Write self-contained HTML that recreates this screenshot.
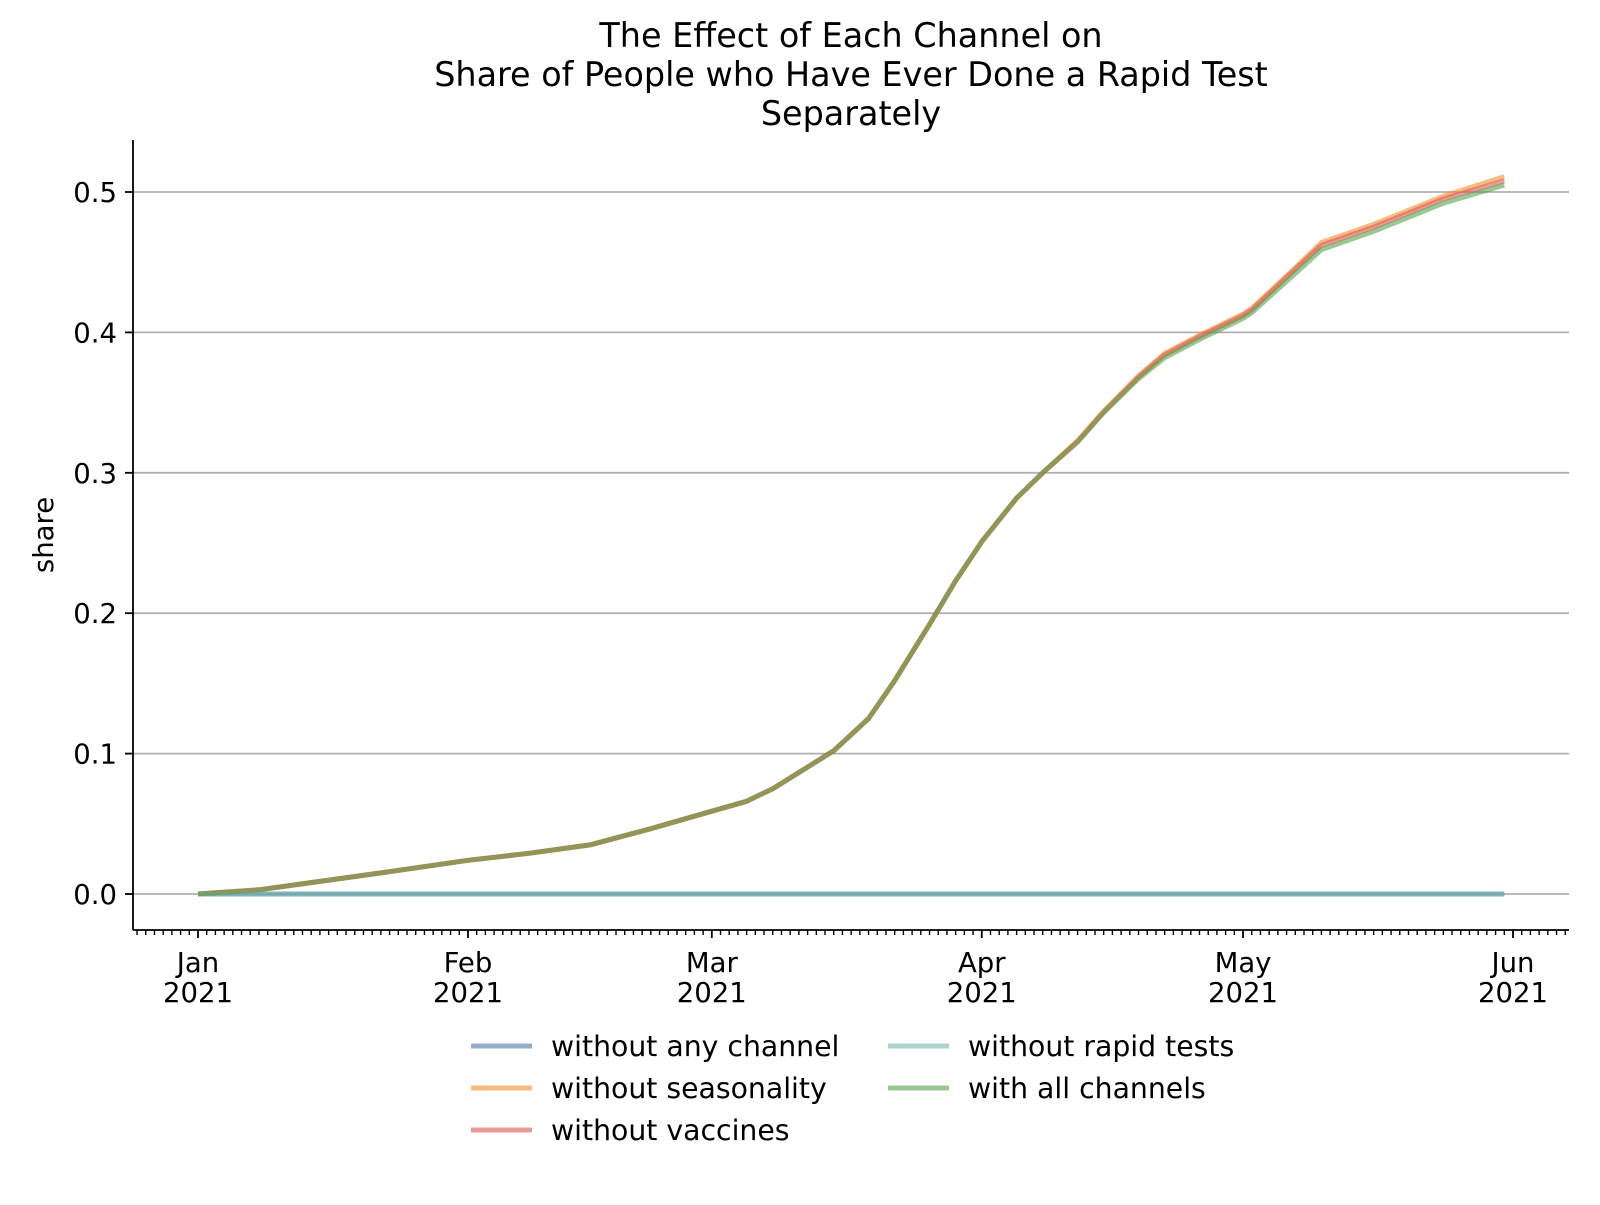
<!DOCTYPE html>
<html><head><meta charset="utf-8">
<style>
body{margin:0;background:#fff;}
svg text{font-family:"DejaVu Sans","Liberation Sans",sans-serif;fill:#000;}
</style></head>
<body>
<svg id="chart" width="1600" height="1200" viewBox="0 0 1600 1200" xmlns="http://www.w3.org/2000/svg">
<g>
<text x="851" y="47" font-size="33.4" text-anchor="middle">The Effect of Each Channel on</text>
<text x="851" y="86" font-size="33.4" text-anchor="middle">Share of People who Have Ever Done a Rapid Test</text>
<text x="851" y="125" font-size="33.4" text-anchor="middle">Separately</text>
</g>
<text transform="translate(53,535) rotate(-90)" font-size="27.5" text-anchor="middle">share</text>
<g id="grid"></g><g id="series"></g><g id="axes"></g>
<g id="legend"></g>
</svg>
<script>
const dayOffsets=[0,7,14,21,31,38,45,52,59,63,66,73,77,80,84,87,90,94,97,101,104,108,111,115,120,121,126,129,135,143,150];
const withAll=[0,0.003,0.009,0.015,0.024,0.029,0.035,0.0465,0.059,0.066,0.075,0.102,0.125,0.152,0.192,0.223,0.251,0.282,0.300,0.322,0.343,0.367,0.382,0.395,0.410,0.414,0.442,0.459,0.472,0.492,0.505];
const withoutSeasonality=[0,0.003,0.009,0.015,0.024,0.029,0.035,0.0465,0.059,0.066,0.075,0.102,0.125,0.152,0.192,0.223,0.251,0.282,0.300,0.323,0.344,0.369,0.385,0.398,0.413,0.417,0.446,0.464,0.477,0.497,0.511];
const withoutVaccines=[0,0.003,0.009,0.015,0.024,0.029,0.035,0.0465,0.059,0.066,0.075,0.102,0.125,0.152,0.192,0.223,0.251,0.282,0.300,0.322,0.343,0.368,0.384,0.397,0.412,0.416,0.445,0.462,0.475,0.495,0.508];
const withoutAny=[0,0];
const withoutRapid=[0,0];
const flatDays=[0,150];
const yTicks=[0,0.1,0.2,0.3,0.4,0.5];
const yTickLabels=["0.0","0.1","0.2","0.3","0.4","0.5"];
const monthDays=[0,31,59,90,120,151];
const monthLabels=["Jan","Feb","Mar","Apr","May","Jun"];
const seriesNames=["without any channel","without seasonality","without vaccines","without rapid tests","with all channels"];
const seriesColors=["#4e79a7","#f28e2b","#e15759","#76b7b2","#59a14f"];

const NS="http://www.w3.org/2000/svg";
const X0=198, PXD=(1513-198)/151, Y0=894, PXU=(894-192)/0.5;
const L=133,R=1569,T=140,B=930;
const xs=d=>X0+d*PXD, ys=v=>Y0-v*PXU;
function mk(tag,attrs,parent){const e=document.createElementNS(NS,tag);for(const k in attrs)e.setAttribute(k,attrs[k]);parent.appendChild(e);return e;}
const grid=document.getElementById('grid'),axes=document.getElementById('axes'),ser=document.getElementById('series'),leg=document.getElementById('legend');
yTicks.forEach((v,i)=>{
  const g=mk('line',{x1:L,x2:R,y1:ys(v),y2:ys(v),stroke:'#b0b0b0','stroke-width':1.8},grid);
  
  
  mk('line',{x1:L-8,x2:L,y1:ys(v),y2:ys(v),stroke:'#000','stroke-width':1.8},axes);
  const t=mk('text',{x:L-16,y:ys(v)+10,'font-size':27.5,'text-anchor':'end'},axes);
  t.textContent=yTickLabels[i];
  
  
});
const a1=mk('line',{x1:L,x2:L,y1:T,y2:B,stroke:'#000','stroke-width':1.8},axes);


const a2=mk('line',{x1:L,x2:R,y1:B,y2:B,stroke:'#000','stroke-width':1.8},axes);


for(let d=-8;d<=160;d++){const x=xs(d);if(x<L+2||x>R)continue;
  const major=monthDays.includes(d);
  mk('line',{x1:x,x2:x,y1:B,y2:B+(major?8:5),stroke:'#000','stroke-width':major?1.8:1.4},axes);}
monthDays.forEach((d,i)=>{
  const t=mk('text',{x:xs(d),y:972,'font-size':27.5,'text-anchor':'middle'},axes);
  t.textContent=monthLabels[i];
  
  
  const t2=mk('text',{x:xs(d),y:1002,'font-size':27.5,'text-anchor':'middle'},axes);
  t2.textContent="2021";
  
  
});
const dataSets=[[flatDays,withoutAny],[dayOffsets,withoutSeasonality],[dayOffsets,withoutVaccines],[flatDays,withoutRapid],[dayOffsets,withAll]];
dataSets.forEach(([dd,vv],i)=>{
  const pts=dd.map((d,j)=>xs(d).toFixed(1)+','+ys(vv[j]).toFixed(1)).join(' ');
  const p=mk('polyline',{points:pts,fill:'none',stroke:seriesColors[i],'stroke-width':5,'stroke-opacity':0.6,'stroke-linejoin':'round'},ser);
  
  
});
const legPos=[[471,1046],[471,1088],[471,1130],[888,1046],[888,1088]];
seriesNames.forEach((n,i)=>{
  const [x,y]=legPos[i];
  const g=mk('g',{},leg);
  
  
  mk('line',{x1:x,x2:x+61,y1:y,y2:y,stroke:seriesColors[i],'stroke-width':5,'stroke-opacity':0.6},g);
  const t=mk('text',{x:x+80,y:y+10,'font-size':28.3},g);
  t.textContent=n;
});
</script>
</body></html>
